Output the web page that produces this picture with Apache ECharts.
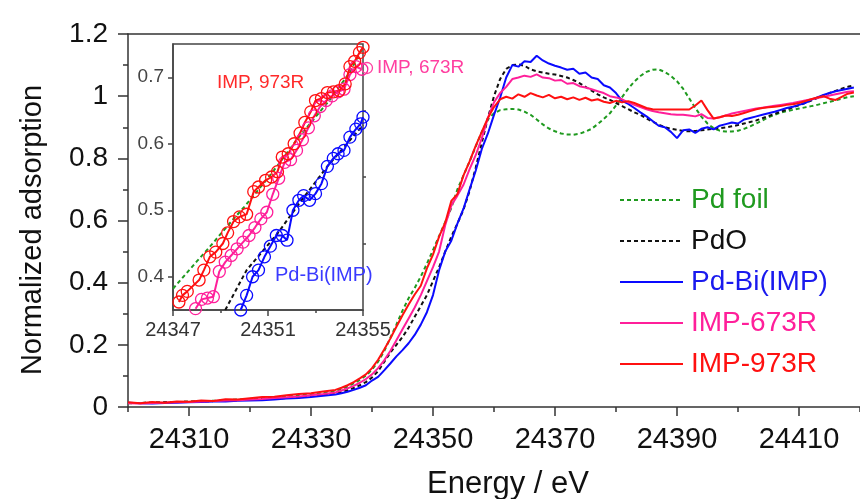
<!DOCTYPE html>
<html>
<head>
<meta charset="utf-8">
<script src="https://cdn.jsdelivr.net/npm/echarts@6/dist/echarts.min.js"></script>
<style>html,body{margin:0;padding:0;background:#fff;}#c{width:860px;height:499px;}</style>
</head>
<body>
<div id="c"></div>
<script>
// ---------- main chart data ----------
const energy = [24300,24302,24304,24306,24308,24310,24312,24314,24316,24318,24320,24322,24324,24326,24328,24330,24332,24334,
24335,24336,24337,24338,24339,24340,24341,24342,24343,24344,24345,24346,
24347,24348,24349,24350,24351,24352,24353,24354,24355,24356,24357,24358,24359,24360,
24361,24362,24363,24364,24365,24366,24367,24368,24369,24370,24371,24372,24373,24374,24375,24376,24377,24378,24379,24380,
24381,24382,24383,24384,24385,24386,24387,24388,24389,24390,24391,24392,24393,24394,24395,24396,24397,24398,24399,24400,
24401,24402,24403,24404,24405,24406,24407,24408,24409,24410,24411,24412,24413,24414,24415,24416,24417,24418,24419];

const pdFoil = [0.012,0.013,0.014,0.015,0.016,0.017,0.019,0.020,0.022,0.024,0.026,0.028,0.031,0.034,0.037,0.041,0.046,0.052,
0.058,0.066,0.076,0.087,0.101,0.12,0.146,0.18,0.222,0.265,0.31,0.35,
0.383,0.42,0.461,0.505,0.55,0.595,0.64,0.70,0.745,0.79,0.838,0.885,0.925,0.945,
0.955,0.958,0.959,0.957,0.95,0.94,0.925,0.909,0.896,0.887,0.88,0.877,0.876,0.879,0.886,0.895,0.91,0.927,0.945,0.97,
0.997,1.024,1.047,1.065,1.078,1.085,1.086,1.078,1.065,1.048,1.024,0.993,0.962,0.934,0.912,0.897,0.889,0.886,0.886,0.889,
0.895,0.903,0.912,0.922,0.932,0.94,0.947,0.952,0.956,0.96,0.964,0.968,0.972,0.977,0.982,0.987,0.992,0.997,1.0];

const pdO = [0.013,0.013,0.014,0.015,0.016,0.017,0.018,0.019,0.020,0.022,0.023,0.025,0.027,0.029,0.032,0.035,0.039,0.043,
0.048,0.054,0.061,0.07,0.08,0.095,0.115,0.145,0.175,0.2,0.225,0.255,
0.29,0.325,0.36,0.405,0.45,0.5,0.548,0.59,0.635,0.695,0.77,0.85,0.93,1.0,
1.055,1.088,1.1,1.102,1.098,1.086,1.08,1.076,1.072,1.07,1.065,1.06,1.052,1.042,1.03,1.018,1.006,0.996,0.988,0.978,
0.968,0.958,0.948,0.94,0.928,0.918,0.908,0.9,0.895,0.892,0.888,0.887,0.888,0.89,0.893,0.895,0.897,0.899,0.903,0.907,
0.912,0.917,0.922,0.929,0.936,0.943,0.95,0.957,0.964,0.971,0.978,0.986,0.994,1.002,1.01,1.017,1.024,1.03,1.035];

const pdBi = [0.014,0.012,0.011,0.013,0.014,0.015,0.016,0.018,0.018,0.020,0.021,0.022,0.024,0.027,0.029,0.032,0.036,0.040,
0.044,0.049,0.055,0.062,0.07,0.085,0.097,0.118,0.14,0.163,0.183,0.205,
0.232,0.265,0.305,0.36,0.44,0.50,0.535,0.59,0.638,0.70,0.76,0.83,0.88,0.94,
0.995,1.06,1.1,1.095,1.112,1.11,1.13,1.115,1.105,1.098,1.092,1.085,1.088,1.072,1.076,1.06,1.055,1.035,1.028,1.01,
0.985,0.975,0.962,0.948,0.935,0.92,0.905,0.9,0.885,0.865,0.89,0.893,0.882,0.895,0.9,0.893,0.905,0.91,0.915,0.912,
0.925,0.93,0.935,0.94,0.945,0.95,0.956,0.962,0.966,0.972,0.978,0.988,0.996,1.004,1.01,1.016,1.02,1.024,1.028];

const imp673 = [0.012,0.011,0.013,0.014,0.015,0.016,0.018,0.019,0.021,0.022,0.024,0.026,0.029,0.031,0.034,0.038,0.042,0.047,
0.053,0.06,0.068,0.078,0.09,0.105,0.125,0.15,0.18,0.215,0.25,0.285,
0.32,0.36,0.405,0.45,0.50,0.585,0.648,0.68,0.715,0.765,0.81,0.865,0.93,0.98,
1.01,1.03,1.055,1.06,1.066,1.062,1.07,1.06,1.058,1.05,1.052,1.04,1.042,1.032,1.028,1.022,1.016,1.01,1.0,0.996,
0.99,0.98,0.972,0.965,0.958,0.952,0.948,0.945,0.942,0.94,0.94,0.938,0.935,0.942,0.93,0.928,0.932,0.938,0.944,0.948,
0.952,0.956,0.96,0.963,0.966,0.969,0.972,0.975,0.978,0.982,0.986,0.99,0.994,0.998,1.002,1.006,1.01,1.014,1.016];

const imp973 = [0.015,0.012,0.016,0.014,0.018,0.017,0.021,0.019,0.025,0.024,0.028,0.032,0.033,0.038,0.042,0.044,0.050,0.055,
0.062,0.07,0.08,0.092,0.105,0.125,0.152,0.185,0.22,0.258,0.295,0.33,
0.362,0.39,0.446,0.49,0.548,0.593,0.663,0.685,0.745,0.79,0.84,0.885,0.93,0.965,
0.99,0.998,0.992,1.006,0.998,1.01,1.002,0.996,1.004,0.993,0.998,0.99,0.996,0.988,0.995,0.986,0.99,0.982,0.978,0.985,
0.98,0.984,0.978,0.97,0.962,0.958,0.957,0.957,0.957,0.957,0.957,0.957,0.97,0.986,0.955,0.928,0.932,0.938,0.936,0.94,
0.946,0.952,0.958,0.962,0.964,0.966,0.968,0.972,0.974,0.978,0.984,0.99,0.996,1.0,0.992,0.988,0.998,1.008,1.012];

const seriesNames = ['Pd foil','PdO','Pd-Bi(IMP)','IMP-673R','IMP-973R'];
const xMajorTicks = [24310,24330,24350,24370,24390,24410];

// ---------- inset data ----------
const insetFoil = [[24347,0.382],[24348,0.423],[24348.5,0.443],[24349.5,0.485],[24350,0.505],[24351.1,0.553],[24352.3,0.61],[24353.6,0.666],[24354.4,0.705],[24355,0.745]];
const insetPdO = [[24349.2,0.35],[24350.1,0.41],[24351.4,0.465],[24352.35,0.512],[24353.5,0.566],[24355,0.628]];
const insetRed = [[24347.25,0.362],[24347.4,0.372],[24347.6,0.378],[24348.1,0.395],[24348.3,0.41],[24348.55,0.43],[24348.8,0.437],[24349.1,0.45],[24349.3,0.466],[24349.55,0.483],[24349.8,0.49],[24350.1,0.494],[24350.4,0.528],[24350.6,0.535],[24350.9,0.545],[24351.15,0.55],[24351.4,0.558],[24351.6,0.58],[24351.85,0.585],[24352.1,0.6],[24352.35,0.616],[24352.55,0.632],[24352.8,0.648],[24353.0,0.665],[24353.25,0.668],[24353.5,0.677],[24353.75,0.678],[24354.0,0.68],[24354.25,0.69],[24354.45,0.716],[24354.65,0.724],[24354.85,0.737],[24355.0,0.745]];
const insetMag = [[24347.95,0.352],[24348.2,0.366],[24348.45,0.368],[24348.7,0.37],[24348.95,0.408],[24349.2,0.422],[24349.45,0.432],[24349.7,0.442],[24349.95,0.452],[24350.2,0.462],[24350.45,0.474],[24350.7,0.487],[24350.95,0.497],[24351.2,0.524],[24351.45,0.548],[24351.7,0.572],[24351.95,0.576],[24352.2,0.59],[24352.45,0.606],[24352.7,0.624],[24352.95,0.642],[24353.2,0.656],[24353.45,0.665],[24353.7,0.672],[24353.95,0.678],[24354.2,0.682],[24354.45,0.704],[24354.7,0.716],[24354.95,0.712]];
const insetBlue = [[24349.85,0.35],[24350.1,0.372],[24350.35,0.4],[24350.6,0.41],[24350.85,0.43],[24351.1,0.446],[24351.35,0.462],[24351.6,0.462],[24351.8,0.455],[24352.05,0.5],[24352.3,0.515],[24352.5,0.522],[24352.75,0.515],[24353.0,0.525],[24353.25,0.54],[24353.5,0.566],[24353.75,0.578],[24353.95,0.585],[24354.2,0.59],[24354.45,0.61],[24354.7,0.622],[24354.9,0.63],[24355.0,0.64]];
const insetXLabels = [24347,24351,24355];
const insetXMinor = [24349,24353];
const insetYLabels = [0.4,0.5,0.6,0.7];
const insetYMinor = [0.45,0.55,0.65];

const FONT = 'Liberation Sans, Arial, sans-serif';
const C = {green:'#1f9a1f', black:'#111111', blue:'#0a0aff', mag:'#ff1f9a', red:'#ff1010'};
const AX = '#333';
const plain = v => String(v);

function pairs(ys){ return energy.map((e,i)=>[e, ys[i]]); }

const chart = echarts.init(document.getElementById('c'), null, {renderer:'canvas'});

const mainSeries = [
  {name:'Pd foil', data:pairs(pdFoil), color:C.green, dash:[4,3]},
  {name:'PdO', data:pairs(pdO), color:C.black, dash:[4,3]},
  {name:'Pd-Bi(IMP)', data:pairs(pdBi), color:C.blue, dash:'solid'},
  {name:'IMP-673R', data:pairs(imp673), color:C.mag, dash:'solid'},
  {name:'IMP-973R', data:pairs(imp973), color:C.red, dash:'solid'}
].map(s=>({
  type:'line', name:s.name, data:s.data, xAxisIndex:0, yAxisIndex:0,
  symbol:'none', color:s.color, animation:false,
  lineStyle:{color:s.color, width:2, type:s.dash}
}));

function insetLine(name, data, color, dash, marker){
  return {
    type:'line', name:name, data:data, xAxisIndex:3, yAxisIndex:1, z:8,
    color:color, animation:false,
    symbol: marker ? 'circle' : 'none', symbolSize:12, showSymbol:!!marker,
    itemStyle:{color:'rgba(0,0,0,0)', borderColor:color, borderWidth:1.3},
    lineStyle:{color:color, width:2, type:dash}
  };
}

const insetSeries = [
  insetLine('inset foil', insetFoil, C.green, [4,3], false),
  insetLine('inset PdO', insetPdO, C.black, [4,3], false),
  insetLine('inset 673', insetMag, C.mag, 'solid', true),
  insetLine('inset 973', insetRed, C.red, 'solid', true),
  insetLine('inset PdBi', insetBlue, C.blue, 'solid', true)
];

const option = {
  backgroundColor:'#fff',
  animation:false,
  textStyle:{fontFamily:FONT},
  grid:[
    {left:128, top:34, width:741, height:373, containLabel:false},
    {left:173, top:44, width:190, height:266, show:true, borderColor:'#444', borderWidth:1.5, backgroundColor:'#fff', z:5}
  ],
  legend:{
    data:[
      {name:'Pd foil', textStyle:{color:'#1f9a1f'}},
      {name:'PdO', textStyle:{color:'#111'}},
      {name:'Pd-Bi(IMP)', textStyle:{color:'#1a1aee'}},
      {name:'IMP-673R', textStyle:{color:'#ff1f9a'}},
      {name:'IMP-973R', textStyle:{color:'#ff1010'}}
    ],
    orient:'vertical', left:614, top:180, itemWidth:63, itemHeight:14, itemGap:11,
    itemStyle:{opacity:0, borderWidth:0},
    textStyle:{fontSize:28, lineHeight:30, fontFamily:FONT, padding:[0,0,0,3]},
    selectedMode:false
  },
  xAxis:[
    {gridIndex:0, type:'value', min:24300, max:24420, interval:20, position:'bottom',
     axisLine:{show:true, lineStyle:{color:AX, width:1.5}},
     axisTick:{show:true, length:5, inside:false, lineStyle:{color:AX, width:1.5}},
     axisLabel:{show:true, customValues:xMajorTicks, formatter:plain, fontSize:29, color:'#111', margin:18, fontFamily:FONT},
     splitLine:{show:false}},
    {gridIndex:0, type:'value', min:24300, max:24420, position:'bottom',
     axisLine:{show:false},
     axisTick:{show:true, customValues:xMajorTicks, length:9, lineStyle:{color:AX, width:1.5}},
     axisLabel:{show:false}, splitLine:{show:false}},
    {gridIndex:0, type:'value', min:24300, max:24420, position:'top',
     axisLine:{show:true, lineStyle:{color:AX, width:1.5}},
     axisTick:{show:false}, axisLabel:{show:false}, splitLine:{show:false}},
    {gridIndex:1, type:'value', min:24347, max:24355, position:'bottom', z:6,
     axisLine:{show:true, lineStyle:{color:'#444', width:1.5}},
     axisTick:{show:true, customValues:insetXLabels, length:6, lineStyle:{color:'#444', width:1.5}},
     axisLabel:{show:true, customValues:insetXLabels, formatter:plain, fontSize:20, color:'#333', margin:10, fontFamily:FONT},
     splitLine:{show:false}},
    {gridIndex:1, type:'value', min:24347, max:24355, position:'bottom', z:6,
     axisLine:{show:false},
     axisTick:{show:true, customValues:insetXMinor, length:3, lineStyle:{color:'#444', width:1.5}},
     axisLabel:{show:false}, splitLine:{show:false}}
  ],
  yAxis:[
    {gridIndex:0, type:'value', min:0, max:1.2, interval:0.2,
     axisLine:{show:true, lineStyle:{color:AX, width:1.5}},
     axisTick:{show:true, length:10, lineStyle:{color:AX, width:1.5}},
     minorTick:{show:true, splitNumber:2, length:5, lineStyle:{color:AX, width:1.5}},
     axisLabel:{fontSize:28, color:'#111', margin:20, fontFamily:FONT},
     splitLine:{show:false}, minorSplitLine:{show:false}},
    {gridIndex:1, type:'value', min:0.35, max:0.75, z:6,
     axisLine:{show:true, lineStyle:{color:'#444', width:1.5}},
     axisTick:{show:true, customValues:insetYLabels, length:5, lineStyle:{color:'#444', width:1.5}},
     axisLabel:{show:true, customValues:insetYLabels, fontSize:19, color:'#444', margin:9, fontFamily:FONT},
     splitLine:{show:false}},
    {gridIndex:1, type:'value', min:0.35, max:0.75, z:6,
     axisLine:{show:false},
     axisTick:{show:true, customValues:insetYMinor, length:3, lineStyle:{color:'#444', width:1.5}},
     axisLabel:{show:false}, splitLine:{show:false}}
  ],
  series: mainSeries.concat(insetSeries),
  graphic:[
    {type:'text', x:33, y:230, rotation:Math.PI/2, z:10,
     style:{text:'Normalized adsorption', font:'29px '+FONT, fill:'#111', align:'center', verticalAlign:'middle', textAlign:'center', textVerticalAlign:'middle'}},
    {type:'text', x:508, y:484, z:10,
     style:{text:'Energy / eV', font:'31px '+FONT, fill:'#111', align:'center', verticalAlign:'middle', textAlign:'center', textVerticalAlign:'middle'}},
    {type:'text', x:217, y:83, z:10,
     style:{text:'IMP, 973R', font:'19px '+FONT, fill:'#ff2a2a', align:'left', verticalAlign:'middle', textAlign:'left', textVerticalAlign:'middle'}},
    {type:'circle', shape:{cx:367, cy:68, r:5.5}, z:10,
     style:{fill:'none', stroke:'#ff3fa0', lineWidth:1.3}},
    {type:'text', x:377, y:68, z:10,
     style:{text:'IMP, 673R', font:'19px '+FONT, fill:'#ff3fa0', align:'left', verticalAlign:'middle', textAlign:'left', textVerticalAlign:'middle'}},
    {type:'text', x:275, y:275, z:10,
     style:{text:'Pd-Bi(IMP)', font:'20px '+FONT, fill:'#3a3aff', align:'left', verticalAlign:'middle', textAlign:'left', textVerticalAlign:'middle'}}
  ]
};
chart.setOption(option);
</script>
</body>
</html>
